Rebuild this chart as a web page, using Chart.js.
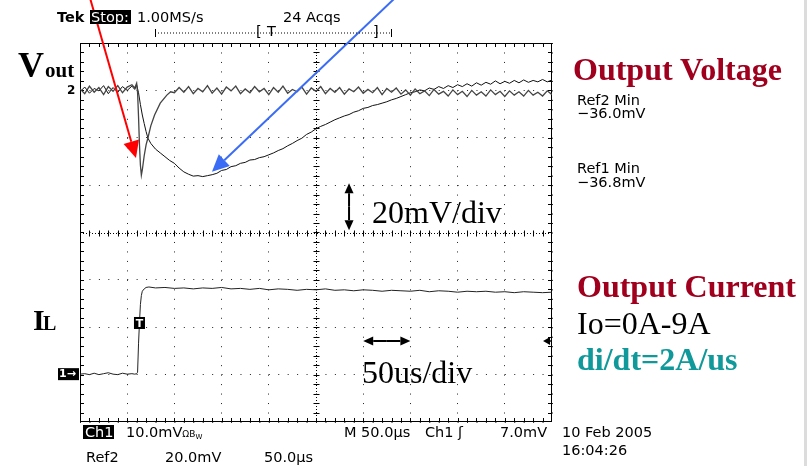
<!DOCTYPE html>
<html>
<head>
<meta charset="utf-8">
<script src="https://cdn.jsdelivr.net/npm/chart.js"></script>
<style>
  body { margin: 0; background: #fff; }
  #wrap { position: relative; width: 808px; height: 466px; }
  #overlay { position: absolute; left: 0; top: 0; pointer-events: none; }
  .tek { font-family: "DejaVu Sans", sans-serif; font-size: 14.5px; fill: #000; }
  .big { font-family: "Liberation Serif", serif; font-size: 32px; }
</style>
</head>
<body>
<div id="wrap">
  <canvas id="scope"></canvas>
  <svg id="overlay" width="808" height="466">
    <!-- header -->
    <text class="tek" x="57" y="22" font-weight="bold">Tek</text>
    <rect x="90" y="10" width="41" height="14" fill="#000"/>
    <text class="tek" x="91" y="22" style="fill:#fff">Stop:</text>
    <text class="tek" x="137" y="22">1.00MS/s</text>
    <text class="tek" x="283" y="22">24 Acqs</text>
    <line x1="155" y1="33" x2="392" y2="33" stroke="#000" stroke-width="1" stroke-dasharray="1,2"/>
    <line x1="155.5" y1="29" x2="155.5" y2="37" stroke="#000"/>
    <line x1="391.5" y1="29" x2="391.5" y2="37" stroke="#000"/>
    <text class="tek" x="256" y="36">[</text>
    <text class="tek" x="267" y="36">T</text>
    <text class="tek" x="373" y="36">]</text>

    <!-- bottom readouts -->
    <rect x="83" y="425" width="31" height="14" fill="#000"/>
    <text class="tek" x="85" y="437" style="fill:#fff">Ch1</text>
    <text class="tek" x="126" y="437">10.0mV<tspan font-size="9">Ω</tspan><tspan font-size="9">B</tspan><tspan font-size="7" dy="2">W</tspan></text>
    <text class="tek" x="344" y="437">M 50.0µs</text>
    <text class="tek" x="425" y="437">Ch1</text>
    <text class="tek" x="458" y="437">ʃ</text>
    <text class="tek" x="500" y="437">7.0mV</text>
    <text class="tek" x="86" y="462">Ref2</text>
    <text class="tek" x="165" y="462">20.0mV</text>
    <text class="tek" x="264" y="462">50.0µs</text>
    <text class="tek" x="562" y="437">10 Feb 2005</text>
    <text class="tek" x="562" y="455">16:04:26</text>

    <!-- measurements -->
    <text class="tek" x="577" y="105">Ref2 Min</text>
    <text class="tek" x="577" y="118">−36.0mV</text>
    <text class="tek" x="577" y="173">Ref1 Min</text>
    <text class="tek" x="577" y="187">−36.8mV</text>

    <!-- slide labels -->
    <text class="big" x="573" y="80" font-weight="bold" fill="#a0001e">Output Voltage</text>
    <text class="big" x="577" y="297" font-weight="bold" fill="#a0001e">Output Current</text>
    <text class="big" x="577" y="334" fill="#000">Io=0A-9A</text>
    <text class="big" x="577" y="370" font-weight="bold" fill="#10999a">di/dt=2A/us</text>
    <text class="big" x="372" y="223" fill="#000" font-size="31">20mV/div</text>
    <text class="big" x="362" y="383" fill="#000" font-size="31">50us/div</text>

    <text x="18" y="77" font-family="Liberation Serif" font-weight="bold" font-size="36">V</text>
    <text x="45" y="77" font-family="Liberation Serif" font-weight="bold" font-size="21">out</text>
    <text x="33" y="330" font-family="Liberation Serif" font-weight="bold" font-size="30">I</text>
    <text x="43" y="330" font-family="Liberation Serif" font-weight="bold" font-size="20">L</text>

    <rect x="804" y="0" width="3" height="466" fill="#dcdcdc"/>
  </svg>
</div>
<script>
// time axis in microseconds (50 us/div, 10 div), vertical in screen divisions (8 div)

// Ref2: fast recovery trace
const ref2Time = [0,5,10,15,20,25,30,35,40,45,50,55,58,60,61,62,63,64,65,66,68,70,72,75,79,85,92,96,
  100,105,110,115,120,125,130,135,140,145,150,155,160,165,170,175,180,185,190,195,
  200,205,210,215,220,225,230,235,240,245,250,255,260,265,270,275,280,285,290,295,
  300,305,310,315,320,325,330,335,340,345,350,355,360,365,370,375,380,385,390,395,
  400,405,410,415,420,425,430,435,440,445,450,455,460,465,470,475,480,485,490,495,500];
const ref2Div = [3.03,2.93,3.09,2.96,3.06,2.91,3.08,2.98,3.10,2.95,3.07,3.12,3.05,3.15,2.95,2.45,1.85,1.42,1.21,1.32,1.62,1.85,2.00,2.25,2.48,2.73,2.90,2.97,
  2.95,3.06,2.96,3.08,2.93,3.04,2.97,3.10,2.94,3.05,2.92,3.07,2.99,3.09,2.93,3.03,2.95,3.08,2.97,3.04,
  2.91,3.06,2.96,3.09,2.94,3.02,2.97,3.07,2.92,3.05,2.98,3.08,2.93,3.04,2.96,3.06,2.92,3.03,2.97,3.07,
  2.94,3.02,2.95,3.06,2.91,3.04,2.96,3.05,2.92,3.01,2.90,3.03,2.93,2.99,2.89,3.02,2.92,2.98,2.88,3.01,
  2.91,2.98,2.87,3.00,2.90,2.97,2.88,3.01,2.91,2.98,2.87,2.99,2.90,2.97,2.88,3.00,2.90,2.96,2.88,2.99,2.91];

// Ref1: slow recovery trace
const ref1Time = [0,5,10,15,20,25,30,35,40,45,50,55,58,60,62,64,66,68,70,72,75,80,85,90,95,
  100,105,110,115,120,125,130,135,140,145,150,155,160,165,170,175,180,185,190,195,
  200,205,210,215,220,225,230,235,240,245,250,255,260,265,270,275,280,285,290,295,
  300,305,310,315,320,325,330,335,340,345,350,355,360,365,370,375,380,385,390,395,
  400,405,410,415,420,425,430,435,440,445,450,455,460,465,470,475,480,485,490,495,500];
const ref1Div = [2.97,3.07,2.94,3.04,2.99,3.10,2.93,3.06,2.96,3.08,3.00,3.09,3.02,3.12,2.95,2.70,2.48,2.30,2.13,1.99,1.88,1.76,1.68,1.60,1.52,
  1.46,1.36,1.28,1.23,1.19,1.20,1.18,1.20,1.22,1.25,1.31,1.33,1.39,1.41,1.46,1.48,1.53,1.54,1.58,1.60,
  1.64,1.68,1.73,1.77,1.83,1.88,1.94,1.99,2.07,2.12,2.19,2.24,2.28,2.33,2.38,2.42,2.46,2.49,2.54,2.57,
  2.62,2.64,2.68,2.70,2.73,2.76,2.80,2.83,2.87,2.91,2.95,2.97,3.01,2.99,3.05,3.02,3.08,3.04,3.10,3.06,
  3.12,3.08,3.14,3.09,3.16,3.11,3.17,3.13,3.20,3.14,3.19,3.15,3.21,3.16,3.22,3.17,3.21,3.18,3.23,3.18,3.22];

// Ch1: load current step
const ch1Time = [0,5,10,15,20,25,30,35,40,45,50,55,58,60,61,62,63,64,65,66,68,70,73,80,
  90,100,110,120,130,140,150,160,170,180,190,200,210,220,230,240,250,260,270,280,290,
  300,310,320,330,340,350,360,370,380,390,400,410,420,430,440,450,460,470,480,490,500];
const ch1Div = [-2.99,-2.98,-3.00,-2.97,-3.00,-2.98,-2.96,-2.99,-3.00,-2.97,-2.99,-2.98,-2.99,-2.98,-2.95,-2.35,-1.90,-1.52,-1.33,-1.24,-1.19,-1.16,-1.15,-1.17,
  -1.16,-1.18,-1.17,-1.19,-1.17,-1.18,-1.16,-1.19,-1.18,-1.20,-1.18,-1.21,-1.19,-1.20,-1.22,-1.20,-1.21,-1.19,-1.22,-1.21,-1.23,
  -1.21,-1.22,-1.24,-1.22,-1.23,-1.24,-1.22,-1.25,-1.23,-1.24,-1.26,-1.24,-1.25,-1.24,-1.26,-1.25,-1.27,-1.25,-1.26,-1.27,-1.26];

const xMajor = 50;   // us per div
const yMinor = 0.2;  // div

function pts(ts, vs) { return ts.map((t, i) => ({ x: t, y: vs[i] })); }

function drawArrow(ctx, x1, y1, x2, y2, color, w, head, half) {
  const a = Math.atan2(y2 - y1, x2 - x1);
  const bx = x2 - head * Math.cos(a), by = y2 - head * Math.sin(a);
  ctx.save();
  ctx.strokeStyle = color; ctx.fillStyle = color; ctx.lineWidth = w;
  ctx.beginPath(); ctx.moveTo(x1, y1); ctx.lineTo(bx, by); ctx.stroke();
  ctx.beginPath();
  ctx.moveTo(x2, y2);
  ctx.lineTo(bx + half * Math.sin(a), by - half * Math.cos(a));
  ctx.lineTo(bx - half * Math.sin(a), by + half * Math.cos(a));
  ctx.closePath(); ctx.fill();
  ctx.restore();
}

const scopeDecor = {
  id: 'scopeDecor',
  beforeDatasetsDraw(chart) {
    const { ctx, chartArea: ca, scales: { x, y } } = chart;
    ctx.save();
    ctx.strokeStyle = '#000';
    ctx.lineWidth = 1;
    ctx.strokeRect(Math.round(ca.left) + 0.5, Math.round(ca.top) + 0.5, Math.round(ca.width) - 1, Math.round(ca.height) - 1);
    const cx = Math.round(x.getPixelForValue(250)) + 0.5;
    const cy = Math.round(y.getPixelForValue(0)) + 0.5;
    ctx.beginPath();
    for (let t = 10; t < 500; t += 10) {
      const px = Math.round(x.getPixelForValue(t)) + 0.5;
      ctx.moveTo(px, ca.top); ctx.lineTo(px, ca.top + 4);
      ctx.moveTo(px, ca.bottom); ctx.lineTo(px, ca.bottom - 4);
      ctx.moveTo(px, cy - 3); ctx.lineTo(px, cy + 3);
    }
    for (let v = -4 + yMinor; v < 4 - 0.01; v += yMinor) {
      const py = Math.round(y.getPixelForValue(v)) + 0.5;
      ctx.moveTo(ca.left, py); ctx.lineTo(ca.left + 4, py);
      ctx.moveTo(ca.right, py); ctx.lineTo(ca.right - 4, py);
      ctx.moveTo(cx - 3, py); ctx.lineTo(cx + 3, py);
    }
    ctx.stroke();
    ctx.setLineDash([1, 2]);
    ctx.beginPath();
    ctx.moveTo(ca.left, cy); ctx.lineTo(ca.right, cy);
    ctx.moveTo(cx, ca.top); ctx.lineTo(cx, ca.bottom);
    ctx.stroke();
    ctx.restore();
  },
  afterDatasetsDraw(chart) {
    const { ctx, chartArea: ca, scales: { x, y } } = chart;
    const px = v => x.getPixelForValue(v), py = v => y.getPixelForValue(v);
    ctx.save();
    // channel markers
    ctx.font = 'bold 12px "DejaVu Sans"';
    ctx.textBaseline = 'middle';
    ctx.fillStyle = '#000';
    ctx.fillText('2', ca.left - 13, py(3.0));
    const y1 = py(-2.99);
    ctx.fillRect(ca.left - 22, y1 - 6, 21, 12);
    ctx.fillStyle = '#fff';
    ctx.font = 'bold 11px "DejaVu Sans"';
    ctx.fillText('1→', ca.left - 21, y1);
    // trigger marker
    const tx = px(63), ty = py(-1.91);
    ctx.fillStyle = '#000';
    ctx.fillRect(tx - 5.5, ty - 6, 11, 12);
    ctx.fillStyle = '#fff';
    ctx.textAlign = 'center';
    ctx.fillText('T', tx, ty + 1);
    ctx.restore();

    // annotation arrows
    drawArrow(ctx, px(10.6), py(4.95), px(59.3), py(1.57), '#ff0000', 2, 17, 8);
    drawArrow(ctx, px(333.7), py(4.95), px(139.8), py(1.28), '#3a6cf5', 2, 17, 8);
    const vx = px(285);
    drawArrow(ctx, vx, py(0.55), vx, py(1.04), '#000', 2, 10, 4.5);
    drawArrow(ctx, vx, py(0.55), vx, py(0.05), '#000', 2, 10, 4.5);
    const hy = py(-2.29);
    drawArrow(ctx, px(325), hy, px(300), hy, '#000', 2, 10, 4.5);
    drawArrow(ctx, px(325), hy, px(350), hy, '#000', 2, 10, 4.5);
    drawArrow(ctx, px(500), hy, px(490.5), hy, '#000', 1.5, 7, 4);
  }
};

new Chart(document.getElementById('scope'), {
  type: 'line',
  data: {
    datasets: [
      { label: 'Ref2', data: pts(ref2Time, ref2Div), borderColor: '#444', borderWidth: 1.3 },
      { label: 'Ref1', data: pts(ref1Time, ref1Div), borderColor: '#111', borderWidth: 1 },
      { label: 'Ch1', data: pts(ch1Time, ch1Div), borderColor: '#222', borderWidth: 1 }
    ]
  },
  options: {
    responsive: true,
    maintainAspectRatio: false,
    animation: false,
    events: [],
    layout: { padding: { left: 80, top: 43, right: 256, bottom: 44 } },
    elements: { point: { radius: 0 }, line: { tension: 0 } },
    plugins: { legend: { display: false }, tooltip: { enabled: false } },
    scales: {
      x: {
        type: 'linear', min: 0, max: 500,
        ticks: { display: false, stepSize: xMajor },
        grid: { color: '#222', lineWidth: 1, drawTicks: false },
        border: { display: false, dash: [1, 8.475] }
      },
      y: {
        type: 'linear', min: -4, max: 4,
        ticks: { display: false, stepSize: 1 },
        grid: { color: '#222', lineWidth: 1, drawTicks: false },
        border: { display: false, dash: [1, 8.44] }
      }
    }
  },
  plugins: [scopeDecor]
});
</script>
</body>
</html>
